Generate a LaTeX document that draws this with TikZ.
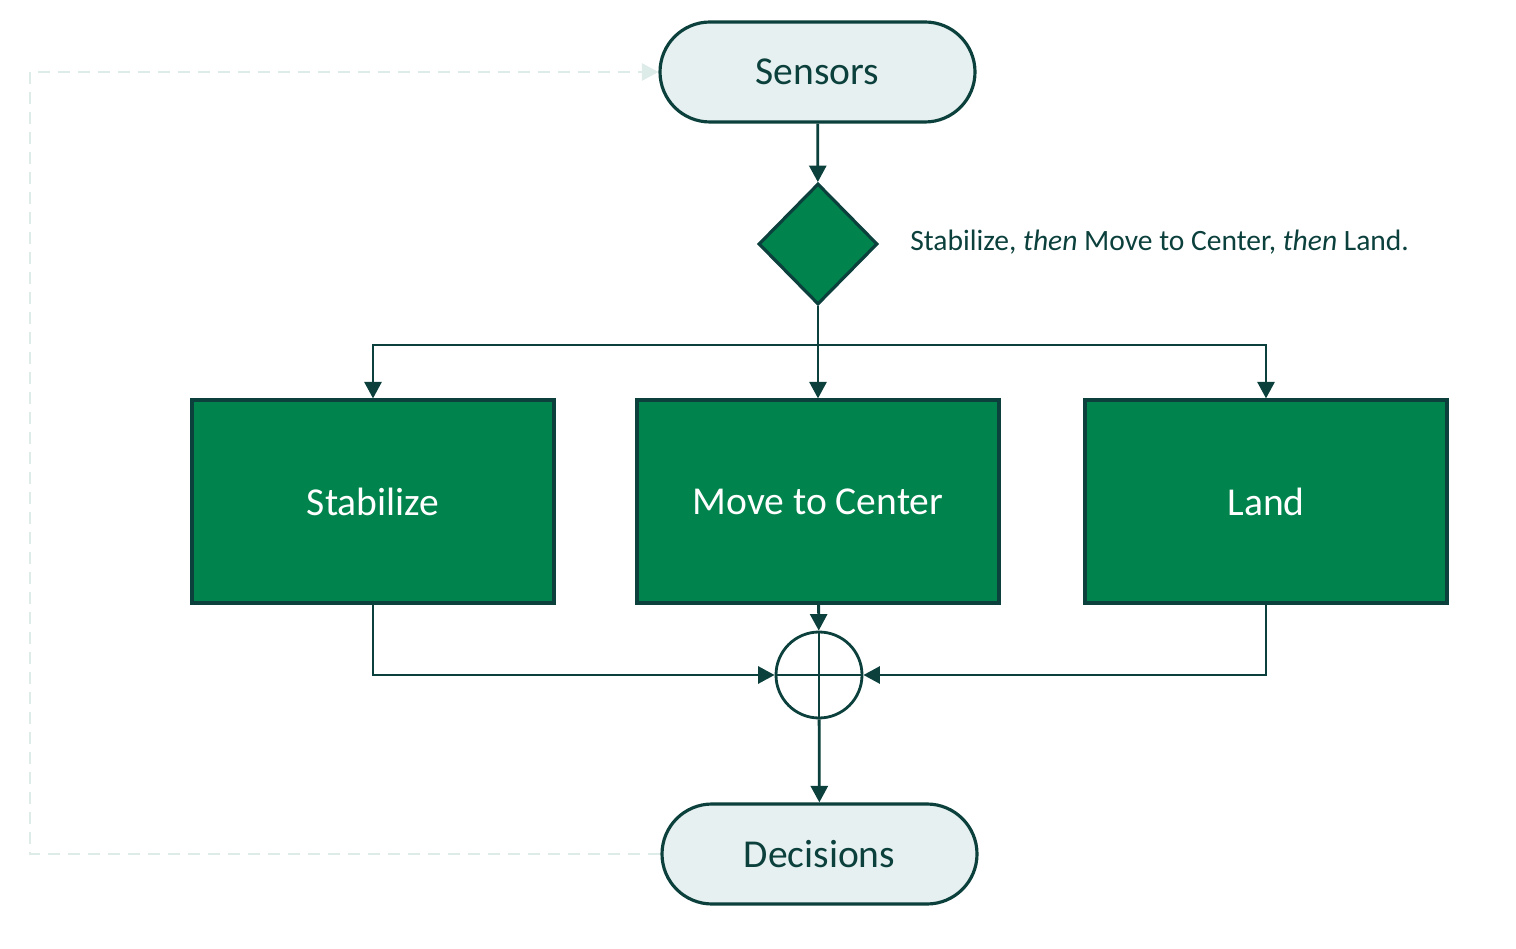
\documentclass[tikz,border=0pt]{standalone}
\usepackage{fontspec}
\setmainfont{Carlito}
\usetikzlibrary{arrows.meta,shapes.geometric}
\definecolor{edge}{HTML}{0B403C}
\definecolor{leaf}{HTML}{00834C}
\definecolor{mist}{HTML}{E6F0F0}
\definecolor{faint}{HTML}{DDEBE9}
\tikzset{
	terminal/.style={draw=edge,fill=mist,line width=1.8pt,rounded corners=1cm,minimum width=6.3cm,minimum height=2cm,text=edge,font=\fontsize{22.5}{26}\selectfont},
	task/.style={draw=edge,fill=leaf,line width=1.8pt,minimum width=7.24cm,minimum height=4.06cm,text=white,font=\fontsize{22.5}{26}\selectfont},
	flow/.style={draw=edge,line width=1.6pt,-{Triangle[length=0.33cm,width=0.34cm]}}
}
\begin{document}
\begin{tikzpicture}
		\useasboundingbox (0,0) rectangle (30.32,18.96);
		\node[terminal] (sensors) at (16.35,17.52) {Sensors};
		\node[diamond,draw=edge,fill=leaf,line width=1.8pt,minimum width=2.38cm,minimum height=2.42cm,inner sep=0pt] (choice) at (16.36,14.08) {};
		\node[anchor=west,inner sep=0pt,text=edge,font=\fontsize{16.8}{19}\selectfont] (order) at (18.2,14.12) {Stabilize, \textit{then} Move to Center, \textit{then} Land.};
		\node[task] (stab) at (7.46,8.93) {Stabilize};
		\node[task] (move) at (16.36,8.93) {Move to Center};
		\node[task] (land) at (25.32,8.93) {Land};
		\node[circle,draw=edge,line width=1.6pt,minimum size=1.72cm,inner sep=0pt] (sum) at (16.38,5.46) {};
		\node[terminal] (decide) at (16.39,1.88) {Decisions};
		\coordinate (split) at (16.36,12.06);
		% forward path
		\draw[flow] (sensors) -- (choice);
		\draw[flow] (choice) -- (move);
		\draw[flow] (split) -| (stab);
		\draw[flow] (split) -| (land);
		\draw[flow] (stab) |- (sum);
		\draw[flow] (land) |- (sum);
		\draw[flow] (move) -- (sum);
		\draw[draw=edge,line width=1.6pt] (sum.north) -- (sum.south) (sum.west) -- (sum.east);
		\draw[flow] (sum) -- (decide);
		% feedback
		\draw[faint,line width=1.6pt,dash pattern=on 0.24cm off 0.16cm,-{Triangle[length=0.33cm,width=0.34cm]}] (decide.west) -- (0.6,1.88) -- (0.6,17.52) -- (sensors.west);
	\end{tikzpicture}
\end{document}
